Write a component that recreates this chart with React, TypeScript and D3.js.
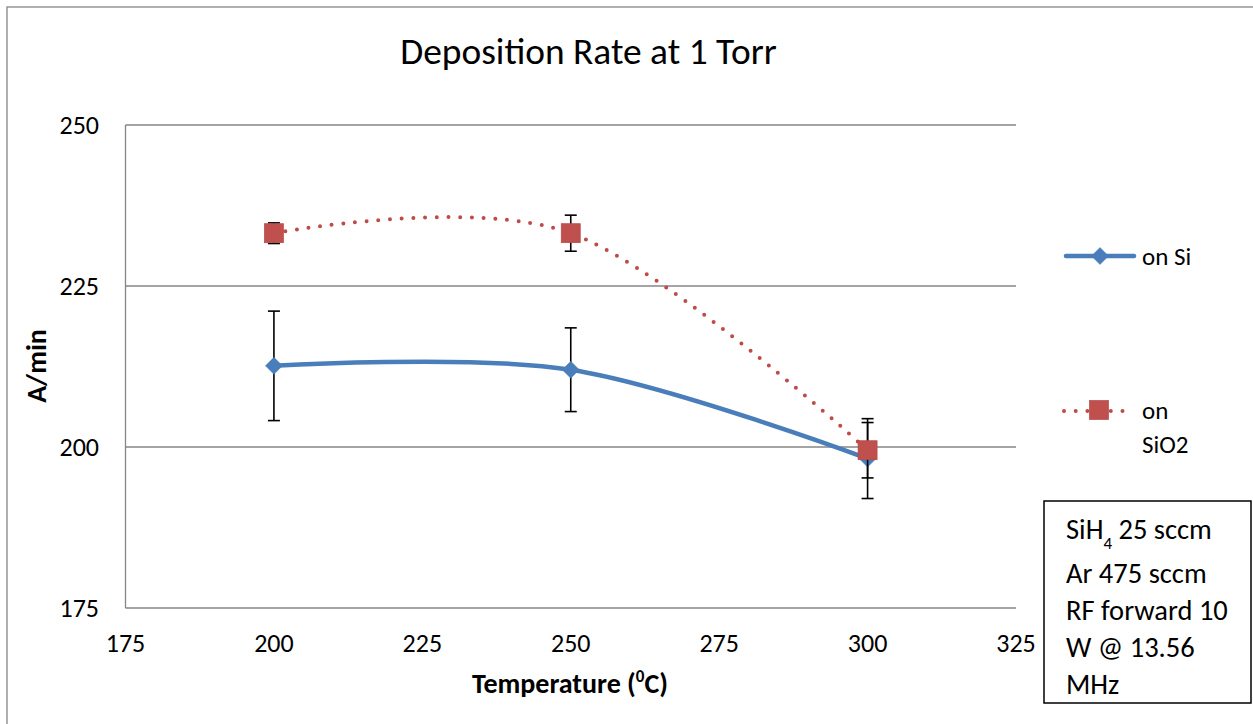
import React from "react";
import * as d3 from "d3";

const temps = [200, 250, 300];
const onSi = [212.6, 212.0, 198.2];
const onSiErr = [8.5, 6.5, 6.2];
const onSiO2 = [233.2, 233.2, 199.5];
const onSiO2Err = [1.6, 2.8, 4.3];
const xTicks = [175, 200, 225, 250, 275, 300, 325];
const yTicks = [175, 200, 225, 250];
const noteLines = ["Ar 475 sccm", "RF forward 10", "W @ 13.56", "MHz"];

const FONT = "Carlito, Calibri, Lato, 'Open Sans', sans-serif";
const BLUE = "#4A7EBB";
const RED = "#BE4B48";
const GRID = "#868686";

export default function App() {
  const x = d3.scaleLinear().domain([175, 325]).range([125.5, 1016]);
  const y = d3.scaleLinear().domain([175, 250]).range([608, 125]);
  const curve = d3.curveCardinal.tension(0);
  const line = d3
    .line<[number, number]>()
    .x((d) => x(d[0]))
    .y((d) => y(d[1]))
    .curve(curve);
  const siPts = temps.map((t, i) => [t, onSi[i]] as [number, number]);
  const sio2Pts = temps.map((t, i) => [t, onSiO2[i]] as [number, number]);

  const errBar = (t: number, v: number, e: number, key: string) => (
    <g key={key} stroke="#000" strokeWidth={1.6}>
      <line x1={x(t)} x2={x(t)} y1={y(v + e)} y2={y(v - e)} />
      <line x1={x(t) - 6} x2={x(t) + 6} y1={y(v + e)} y2={y(v + e)} />
      <line x1={x(t) - 6} x2={x(t) + 6} y1={y(v - e)} y2={y(v - e)} />
    </g>
  );

  const diamond = (cx: number, cy: number, key: string) => (
    <path
      key={key}
      d={`M${cx},${cy - 8.5}L${cx + 8.5},${cy}L${cx},${cy + 8.5}L${cx - 8.5},${cy}Z`}
      fill={BLUE}
      stroke={BLUE}
      strokeWidth={0.5}
    />
  );
  const square = (cx: number, cy: number, key: string) => (
    <rect
      key={key}
      x={cx - 9.5}
      y={cy - 9.5}
      width={19}
      height={19}
      fill="#C0504D"
      stroke="#B8474A"
      strokeWidth={0.7}
    />
  );

  return (
    <svg
      width={1253}
      height={724}
      style={{ position: "absolute", left: 0, top: 0, background: "#fff" }}
      fontFamily={FONT}
    >
      <rect x={7} y={7} width={1270} height={740} fill="#fff" stroke={GRID} strokeWidth={1.3} />
      <text x={588.5} y={64} textAnchor="middle" fontSize={37.4} fill="#000">
        Deposition Rate at 1 Torr
      </text>

      {/* grid */}
      {yTicks.map((t) => (
        <line key={"g" + t} x1={x(175)} x2={x(325)} y1={y(t)} y2={y(t)} stroke={GRID} strokeWidth={1.3} />
      ))}
      <line x1={x(175)} x2={x(175)} y1={y(250)} y2={y(175)} stroke={GRID} strokeWidth={1.3} />

      {yTicks.map((t) => (
        <text key={"yl" + t} x={99} y={y(t)} dy="0.35em" textAnchor="end" fontSize={26} fill="#000">
          {t}
        </text>
      ))}
      {xTicks.map((t) => (
        <text key={"xl" + t} x={x(t)} y={643} dy="0.35em" textAnchor="middle" fontSize={26} fill="#000">
          {t}
        </text>
      ))}

      <text x={570} y={693} textAnchor="middle" fontSize={28} fontWeight="bold" fill="#000">
        Temperature (
        <tspan fontSize={17} dy="-11">0</tspan>
        <tspan dy="11">C)</tspan>
      </text>
      <text
        transform="translate(36,366) rotate(-90)"
        dy="0.35em"
        textAnchor="middle"
        fontSize={28}
        fontWeight="bold"
        fill="#000"
      >
        A/min
      </text>

      {/* series */}
      <path d={line(siPts) || ""} fill="none" stroke={BLUE} strokeWidth={4.5} strokeLinecap="round" />
      <path
        d={line(sio2Pts) || ""}
        fill="none"
        stroke={RED}
        strokeWidth={4}
        strokeLinecap="round"
        strokeDasharray="0 11.7"
      />
      {temps.map((t, i) => errBar(t, onSi[i], onSiErr[i], "es" + i))}
      {temps.map((t, i) => diamond(x(t), y(onSi[i]), "d" + i))}
      {temps.map((t, i) => errBar(t, onSiO2[i], onSiO2Err[i], "eo" + i))}
      {temps.map((t, i) => square(x(t), y(onSiO2[i]), "s" + i))}

      {/* legend */}
      <line x1={1066} x2={1134} y1={256} y2={256} stroke={BLUE} strokeWidth={4.5} strokeLinecap="round" />
      {diamond(1100, 256, "ld")}
      <text x={1142} y={256} dy="0.35em" fontSize={25} fill="#000">on Si</text>
      <line
        x1={1064}
        x2={1130}
        y1={411}
        y2={411}
        stroke={RED}
        strokeWidth={4}
        strokeLinecap="round"
        strokeDasharray="0 11.7"
      />
      {square(1099, 410, "ls")}
      <text x={1142} y={410} dy="0.35em" fontSize={25} fill="#000">on</text>
      <text x={1142} y={444} dy="0.35em" fontSize={25} fill="#000">SiO2</text>

      {/* note box */}
      <rect x={1044} y={501} width={207} height={202} fill="#fff" stroke="#000" strokeWidth={1.5} />
      <text x={1066} y={539} fontSize={28.5} fill="#000">
        SiH
        <tspan fontSize={17} dy="10">4</tspan>
        <tspan dy="-10"> 25 sccm</tspan>
      </text>
      {noteLines.map((s, i) => (
        <text key={"n" + i} x={1066} y={583 + i * 37} fontSize={28.5} fill="#000">
          {s}
        </text>
      ))}
    </svg>
  );
}
